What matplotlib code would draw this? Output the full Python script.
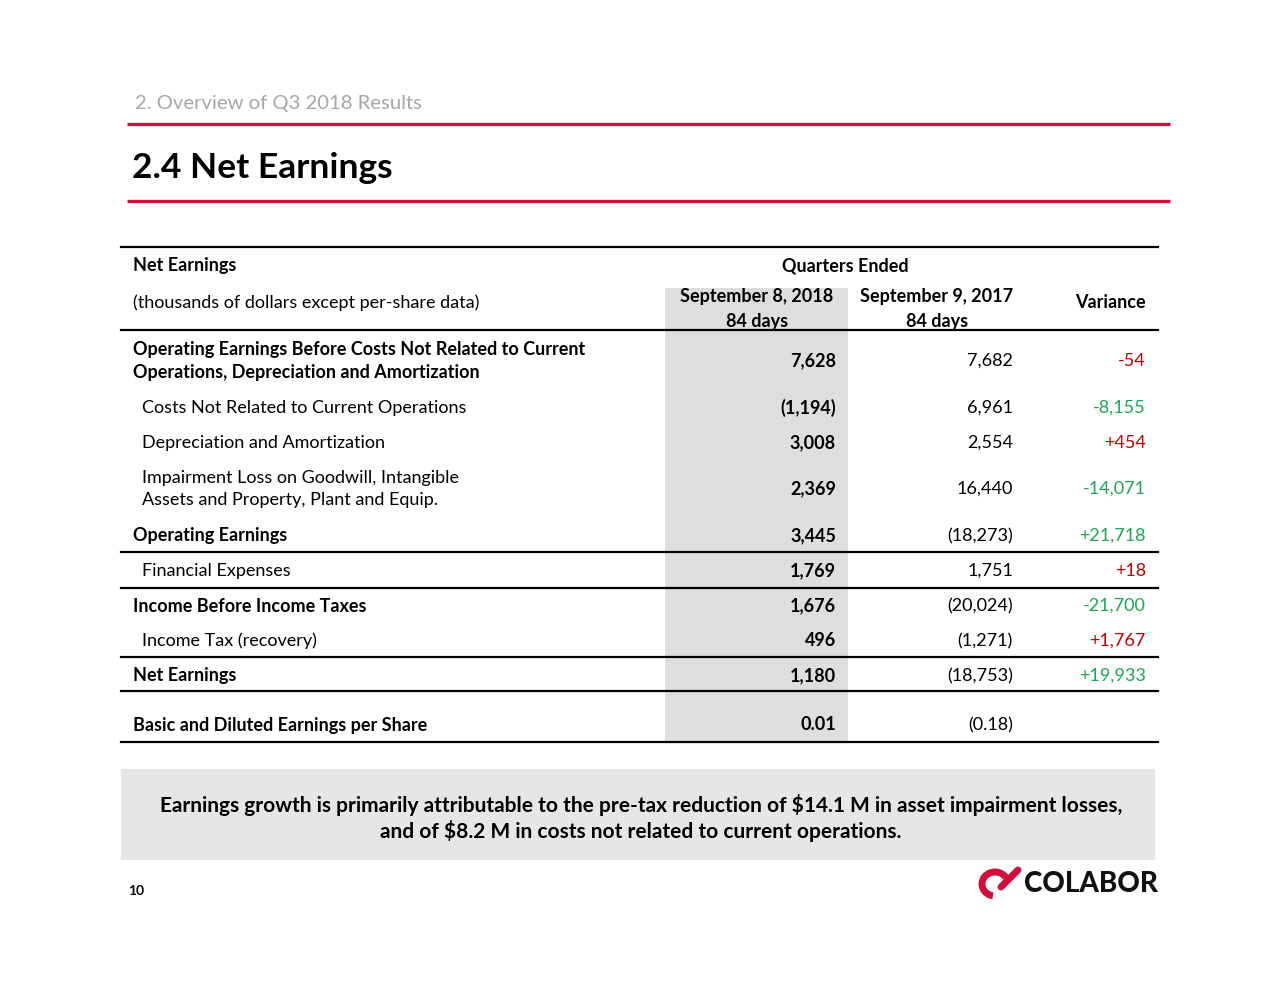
import numpy as np
import matplotlib
matplotlib.use("Agg")
import matplotlib.pyplot as plt
from matplotlib.patches import Rectangle, Arc

plt.rcParams['font.family'] = ['Lato', 'DejaVu Sans']

# table data (thousands of dollars)
row_labels = [
    "Operating Earnings Before Costs Not Related to Current\nOperations, Depreciation and Amortization",
    "Costs Not Related to Current Operations",
    "Depreciation and Amortization",
    "Impairment Loss on Goodwill, Intangible\nAssets and Property, Plant and Equip.",
    "Operating Earnings",
    "Financial Expenses",
    "Income Before Income Taxes",
    "Income Tax (recovery)",
    "Net Earnings",
    "Basic and Diluted Earnings per Share",
]
row_bold = [True, False, False, False, True, False, True, False, True, True]
q3_2018 = [7628, -1194, 3008, 2369, 3445, 1769, 1676, 496, 1180, 0.01]
q3_2017 = [7682, 6961, 2554, 16440, -18273, 1751, -20024, -1271, -18753, -0.18]
variance = [-54, -8155, 454, -14071, 21718, 18, -21700, 1767, 19933, None]
favorable = [False, True, False, True, True, False, True, False, True, None]

col_headers = ["September 8, 2018\n84 days", "September 9, 2017\n84 days", "Variance"]

RED = "#d0103a"
GOOD = "#1aa553"
BAD = "#c00000"
FS = 13


def fmt(v):
    if isinstance(v, float) and abs(v) < 1:
        s = f"{abs(v):.2f}"
    else:
        s = f"{abs(v):,}"
    return f"({s})" if v < 0 else s


def fmt_var(v):
    return f"+{v:,}" if v > 0 else f"-{abs(v):,}"


fig = plt.figure(figsize=(12.8, 9.89), dpi=100)
ax = fig.add_axes([0, 0, 1, 1])
ax.set_xlim(0, 1280)
ax.set_ylim(989, 0)
ax.axis("off")

# header
ax.text(135, 104, "2. Overview of Q3 2018 Results", fontsize=14.6, color="#a6a6a6", va="center")
ax.plot([127, 1170], [124, 124], color=RED, lw=2.4, solid_capstyle="butt")
ax.text(132, 168, "2.4 Net Earnings", fontsize=25.5, fontweight="bold", va="center")
ax.plot([127, 1170], [201, 201], color=RED, lw=2.4, solid_capstyle="butt")

# shaded current-quarter column
ax.add_patch(Rectangle((665, 288), 183, 454, color="#dedede", lw=0, zorder=0))

# table header
ax.plot([121, 1158], [247, 247], color="black", lw=1.6)
ax.text(133, 265, "Net Earnings", fontsize=FS, fontweight="bold", va="center")
ax.text(845, 266, "Quarters Ended", fontsize=FS, fontweight="bold", va="center", ha="center")
ax.text(133, 303, "(thousands of dollars except per-share data)", fontsize=FS, va="center")
for x, h in zip([757, 937], col_headers[:2]):
    ax.text(x, 309, h, fontsize=FS, fontweight="bold", ha="center", va="center", linespacing=1.55)
ax.text(1146, 303, col_headers[2], fontsize=FS, fontweight="bold", ha="right", va="center")
ax.plot([121, 1158], [330, 330], color="black", lw=1.6)

row_y = [361, 408, 443, 489, 536, 571, 606, 641, 676, 725]
rule_y = [552, 588, 657, 691, 742]

for i, lab in enumerate(row_labels):
    y = row_y[i]
    w = "bold" if row_bold[i] else "normal"
    x0 = 133 if row_bold[i] else 142
    ax.text(x0, y, lab, fontsize=FS, fontweight=w, va="center", linespacing=1.4)
    ax.text(836, y, fmt(q3_2018[i]), fontsize=FS, fontweight="bold", ha="right", va="center")
    ax.text(1013, y, fmt(q3_2017[i]), fontsize=FS, ha="right", va="center")
    if variance[i] is not None:
        ax.text(1146, y, fmt_var(variance[i]), fontsize=FS, ha="right", va="center",
                color=GOOD if favorable[i] else BAD)

for y in rule_y:
    ax.plot([121, 1158], [y, y], color="black", lw=1.6)

# note box
ax.add_patch(Rectangle((121, 769), 1034, 91, color="#e6e6e6", lw=0, zorder=0))
ax.text(641, 818,
        "Earnings growth is primarily attributable to the pre-tax reduction of $14.1 M in asset impairment losses,\n"
        "and of $8.2 M in costs not related to current operations.",
        fontsize=15, fontweight="bold", ha="center", va="center", linespacing=1.2)

# page number
ax.text(128, 891, "10", fontsize=10, fontweight="bold", va="center")

# logo
ax.add_patch(Arc((995, 884), 26, 24, theta1=100, theta2=330, color=RED, lw=5))
ax.plot([1001, 1018], [887, 870], color=RED, lw=5, solid_capstyle="round")
ax.text(1024, 884, "COLABOR", fontsize=20, fontweight="black", va="center", color="#111111")

fig.savefig("out.png", dpi=100)
